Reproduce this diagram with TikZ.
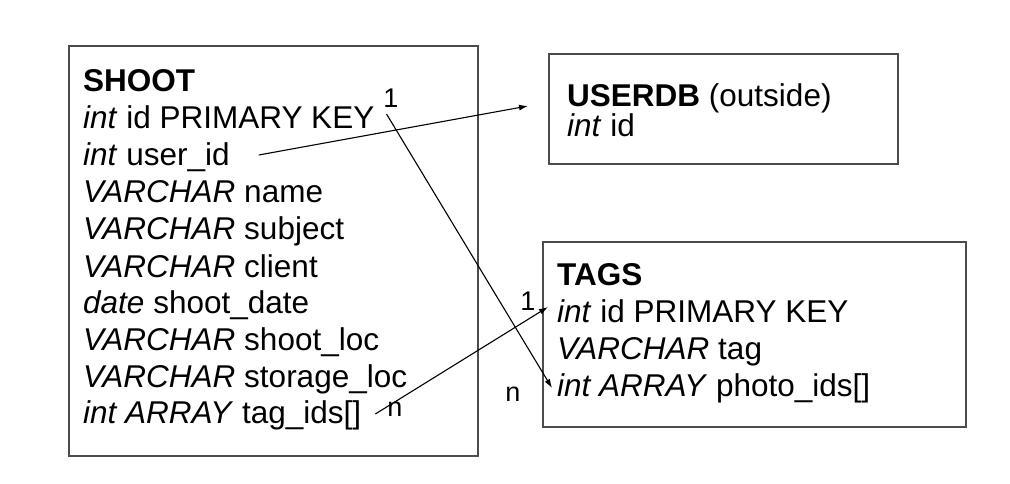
\documentclass[tikz,border=0pt]{standalone}
\usepackage{fontspec}
\setmainfont{Liberation Sans}
\usetikzlibrary{arrows.meta}
\tikzset{
  tbl/.style={draw=black!70, line width=2pt, anchor=north west, inner sep=0pt},
  row/.style={anchor=base west, inner sep=0pt, font=\fontsize{31.5}{36}\selectfont},
  card/.style={inner sep=0pt, font=\fontsize{27}{30}\selectfont},
  arr/.style={line width=1.1pt, -{Latex[length=9pt,width=6pt]}}
}
\begin{document}
\begin{tikzpicture}[x=1pt,y=-1pt]
\useasboundingbox (0,0) rectangle (1010,484);
% boxes
\node[tbl, minimum width=409pt, minimum height=410pt] (shoot) at (68,45) {};
\node[tbl, minimum width=349pt, minimum height=110pt] (userdb) at (548,53) {};
\node[tbl, minimum width=423pt, minimum height=185pt] (tags) at (542,241) {};
% SHOOT rows
\node[row] (s0) at (83,92) {\textbf{SHOOT}};
\node[row] (s1) at (83,129) {\textit{int} id PRIMARY KEY};
\node[row] (s2) at (83,166) {\textit{int} user\_id};
\node[row] (s3) at (83,203) {\textit{VARCHAR} name};
\node[row] (s4) at (83,240) {\textit{VARCHAR} subject};
\node[row] (s5) at (83,277) {\textit{VARCHAR} client};
\node[row] (s6) at (83,313) {\textit{date} shoot\_date};
\node[row] (s7) at (83,350) {\textit{VARCHAR} shoot\_loc};
\node[row] (s8) at (83,387) {\textit{VARCHAR} storage\_loc};
\node[row] (s9) at (83,423) {\textit{int ARRAY} tag\_ids[]};
% USERDB rows
\node[row] (u0) at (567,107) {\textbf{USERDB} (outside)};
\node[row] (u1) at (567,137) {\textit{int} id};
% TAGS rows
\node[row] (t0) at (557,285) {\textbf{TAGS}};
\node[row] (t1) at (557,322) {\textit{int} id PRIMARY KEY};
\node[row] (t2) at (557,359) {\textit{VARCHAR} tag};
\node[row] (t3) at (557,396) {\textit{int ARRAY} photo\_ids[]};
% connectors
\draw[arr] ([shift={(29,-11)}]s2.base east) -- ([shift={(-20,-3)}]userdb.west);
\draw[arr] ([shift={(12,-15)}]s1.base east) -- ([shift={(-5,-8)}]t3.base west);
\draw[arr] ([shift={(14,-9)}]s9.base east) -- ([shift={(-9,-15)}]t1.base west);
% cardinalities
\node[card] (c1) at (391,98) {1};
\node[card] (c2) at (528,301) {1};
\node[card] (c3) at (513,394) {n};
\node[card] (c4) at (395,409) {n};
\end{tikzpicture}
\end{document}
